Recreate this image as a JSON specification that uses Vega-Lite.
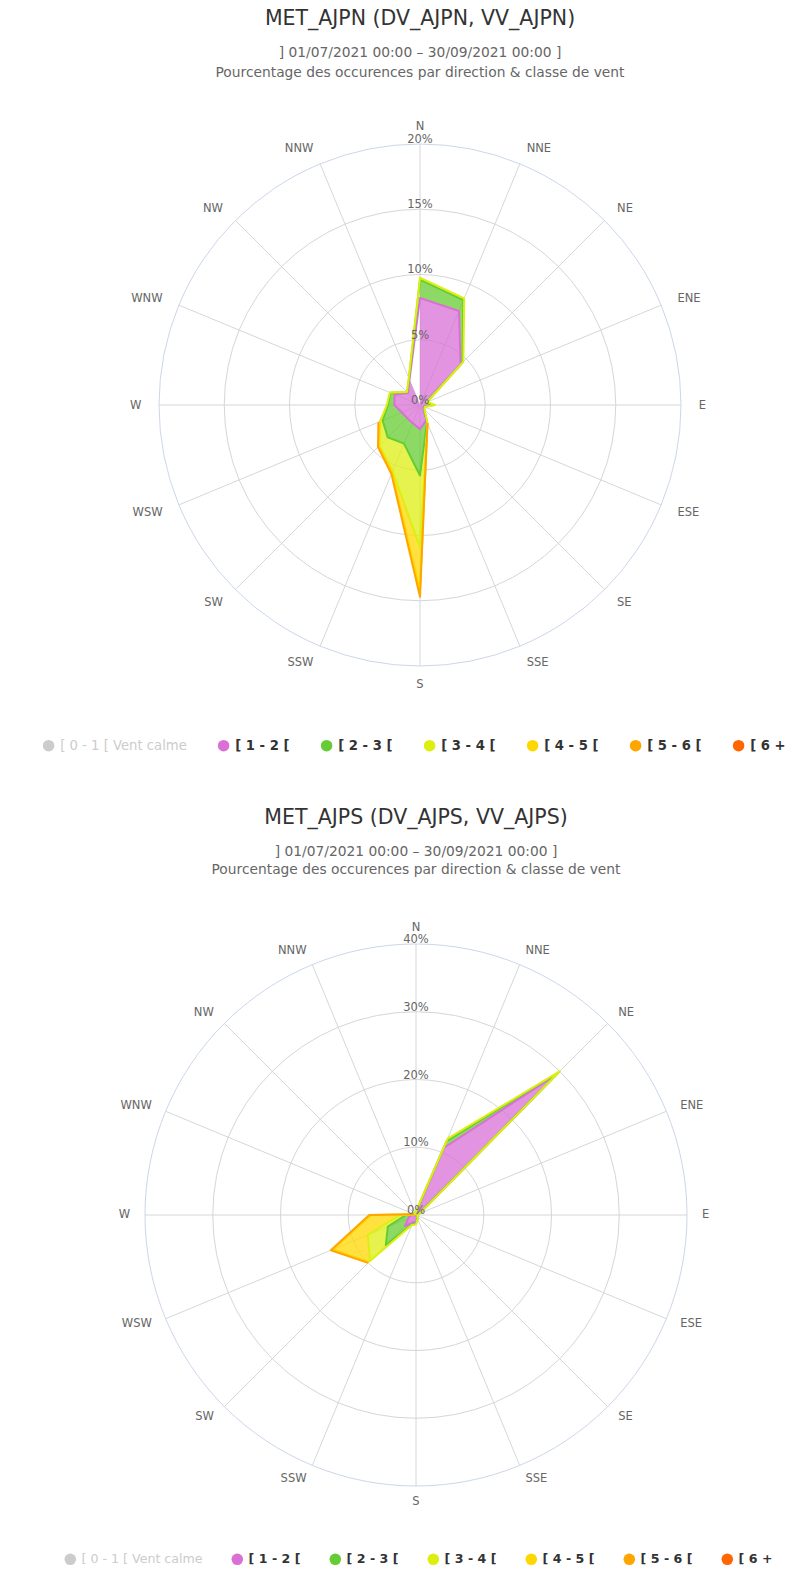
{
  "$schema": "https://vega.github.io/schema/vega-lite/v6.json",
  "padding": {"left": 42, "top": 9, "right": 0, "bottom": 0},
  "bounds": "flush",
  "spacing": 264,
  "config": {
    "view": {"stroke": null},
    "font": "DejaVu Sans",
    "title": {"anchor": "middle", "frame": "group", "fontSize": 20.5, "fontWeight": "normal", "color": "#333333", "subtitleFontSize": 13.8, "subtitleColor": "#666666", "subtitlePadding": 16, "subtitleLineHeight": 20}
  },
  "resolve": {"scale": {"fill": "independent", "stroke": "independent", "size": "independent"}, "legend": {"fill": "independent"}},
  "datasets": {
    "dirs": [
      {"dir": "N", "deg": 0}, {"dir": "NNE", "deg": 22.5}, {"dir": "NE", "deg": 45}, {"dir": "ENE", "deg": 67.5},
      {"dir": "E", "deg": 90}, {"dir": "ESE", "deg": 112.5}, {"dir": "SE", "deg": 135}, {"dir": "SSE", "deg": 157.5},
      {"dir": "S", "deg": 180}, {"dir": "SSW", "deg": 202.5}, {"dir": "SW", "deg": 225}, {"dir": "WSW", "deg": 247.5},
      {"dir": "W", "deg": 270}, {"dir": "WNW", "deg": 292.5}, {"dir": "NW", "deg": 315}, {"dir": "NNW", "deg": 337.5}
    ],
    "rings1": [{"v": 0, "t": "0%"}, {"v": 5, "t": "5%"}, {"v": 10, "t": "10%"}, {"v": 15, "t": "15%"}, {"v": 20, "t": "20%"}],
    "rings2": [{"v": 0, "t": "0%"}, {"v": 10, "t": "10%"}, {"v": 20, "t": "20%"}, {"v": 30, "t": "30%"}, {"v": 40, "t": "40%"}],
    "ajpn": [
      {"classe": "[ 1 - 2 [", "ord": 1, "deg": 0, "pct": 8.2}, {"classe": "[ 1 - 2 [", "ord": 1, "deg": 22.5, "pct": 7.8}, {"classe": "[ 1 - 2 [", "ord": 1, "deg": 45, "pct": 4.4}, {"classe": "[ 1 - 2 [", "ord": 1, "deg": 67.5, "pct": 0.5},
      {"classe": "[ 1 - 2 [", "ord": 1, "deg": 90, "pct": 0.95}, {"classe": "[ 1 - 2 [", "ord": 1, "deg": 112.5, "pct": 0.3}, {"classe": "[ 1 - 2 [", "ord": 1, "deg": 135, "pct": 0.4}, {"classe": "[ 1 - 2 [", "ord": 1, "deg": 157.5, "pct": 1.25},
      {"classe": "[ 1 - 2 [", "ord": 1, "deg": 180, "pct": 1.85}, {"classe": "[ 1 - 2 [", "ord": 1, "deg": 202.5, "pct": 1.5}, {"classe": "[ 1 - 2 [", "ord": 1, "deg": 225, "pct": 1.4}, {"classe": "[ 1 - 2 [", "ord": 1, "deg": 247.5, "pct": 1.5},
      {"classe": "[ 1 - 2 [", "ord": 1, "deg": 270, "pct": 1.96}, {"classe": "[ 1 - 2 [", "ord": 1, "deg": 292.5, "pct": 2.1}, {"classe": "[ 1 - 2 [", "ord": 1, "deg": 315, "pct": 1.3}, {"classe": "[ 1 - 2 [", "ord": 1, "deg": 337.5, "pct": 2.1},
      {"classe": "[ 2 - 3 [", "ord": 2, "deg": 0, "pct": 1.4}, {"classe": "[ 2 - 3 [", "ord": 2, "deg": 22.5, "pct": 0.9}, {"classe": "[ 2 - 3 [", "ord": 2, "deg": 45, "pct": 0.2}, {"classe": "[ 2 - 3 [", "ord": 2, "deg": 67.5, "pct": 0.05},
      {"classe": "[ 2 - 3 [", "ord": 2, "deg": 90, "pct": 0.1}, {"classe": "[ 2 - 3 [", "ord": 2, "deg": 112.5, "pct": 0.05}, {"classe": "[ 2 - 3 [", "ord": 2, "deg": 135, "pct": 0.05}, {"classe": "[ 2 - 3 [", "ord": 2, "deg": 157.5, "pct": 0.15},
      {"classe": "[ 2 - 3 [", "ord": 2, "deg": 180, "pct": 3.55}, {"classe": "[ 2 - 3 [", "ord": 2, "deg": 202.5, "pct": 1.7}, {"classe": "[ 2 - 3 [", "ord": 2, "deg": 225, "pct": 2.1}, {"classe": "[ 2 - 3 [", "ord": 2, "deg": 247.5, "pct": 1.6},
      {"classe": "[ 2 - 3 [", "ord": 2, "deg": 270, "pct": 0.5}, {"classe": "[ 2 - 3 [", "ord": 2, "deg": 292.5, "pct": 0.35}, {"classe": "[ 2 - 3 [", "ord": 2, "deg": 315, "pct": 0.08}, {"classe": "[ 2 - 3 [", "ord": 2, "deg": 337.5, "pct": 0.1},
      {"classe": "[ 3 - 4 [", "ord": 3, "deg": 0, "pct": 0.15}, {"classe": "[ 3 - 4 [", "ord": 3, "deg": 22.5, "pct": 0.15}, {"classe": "[ 3 - 4 [", "ord": 3, "deg": 45, "pct": 0.1}, {"classe": "[ 3 - 4 [", "ord": 3, "deg": 67.5, "pct": 0.05},
      {"classe": "[ 3 - 4 [", "ord": 3, "deg": 90, "pct": 0.1}, {"classe": "[ 3 - 4 [", "ord": 3, "deg": 112.5, "pct": 0.05}, {"classe": "[ 3 - 4 [", "ord": 3, "deg": 135, "pct": 0.05}, {"classe": "[ 3 - 4 [", "ord": 3, "deg": 157.5, "pct": 0.1},
      {"classe": "[ 3 - 4 [", "ord": 3, "deg": 180, "pct": 5.5}, {"classe": "[ 3 - 4 [", "ord": 3, "deg": 202.5, "pct": 2.3}, {"classe": "[ 3 - 4 [", "ord": 3, "deg": 225, "pct": 0.9}, {"classe": "[ 3 - 4 [", "ord": 3, "deg": 247.5, "pct": 0.2},
      {"classe": "[ 3 - 4 [", "ord": 3, "deg": 270, "pct": 0.08}, {"classe": "[ 3 - 4 [", "ord": 3, "deg": 292.5, "pct": 0.05}, {"classe": "[ 3 - 4 [", "ord": 3, "deg": 315, "pct": 0.04}, {"classe": "[ 3 - 4 [", "ord": 3, "deg": 337.5, "pct": 0.05},
      {"classe": "[ 4 - 5 [", "ord": 4, "deg": 0, "pct": null}, {"classe": "[ 4 - 5 [", "ord": 4, "deg": 22.5, "pct": null}, {"classe": "[ 4 - 5 [", "ord": 4, "deg": 45, "pct": null}, {"classe": "[ 4 - 5 [", "ord": 4, "deg": 67.5, "pct": null},
      {"classe": "[ 4 - 5 [", "ord": 4, "deg": 90, "pct": null}, {"classe": "[ 4 - 5 [", "ord": 4, "deg": 112.5, "pct": null}, {"classe": "[ 4 - 5 [", "ord": 4, "deg": 135, "pct": null}, {"classe": "[ 4 - 5 [", "ord": 4, "deg": 157.5, "pct": 0},
      {"classe": "[ 4 - 5 [", "ord": 4, "deg": 180, "pct": 3.3}, {"classe": "[ 4 - 5 [", "ord": 4, "deg": 202.5, "pct": 0.1}, {"classe": "[ 4 - 5 [", "ord": 4, "deg": 225, "pct": 0.05}, {"classe": "[ 4 - 5 [", "ord": 4, "deg": 247.5, "pct": 0.05},
      {"classe": "[ 4 - 5 [", "ord": 4, "deg": 270, "pct": null}, {"classe": "[ 4 - 5 [", "ord": 4, "deg": 292.5, "pct": null}, {"classe": "[ 4 - 5 [", "ord": 4, "deg": 315, "pct": null}, {"classe": "[ 4 - 5 [", "ord": 4, "deg": 337.5, "pct": null},
      {"classe": "[ 5 - 6 [", "ord": 5, "deg": 0, "pct": null}, {"classe": "[ 5 - 6 [", "ord": 5, "deg": 22.5, "pct": null}, {"classe": "[ 5 - 6 [", "ord": 5, "deg": 45, "pct": null}, {"classe": "[ 5 - 6 [", "ord": 5, "deg": 67.5, "pct": null},
      {"classe": "[ 5 - 6 [", "ord": 5, "deg": 90, "pct": null}, {"classe": "[ 5 - 6 [", "ord": 5, "deg": 112.5, "pct": null}, {"classe": "[ 5 - 6 [", "ord": 5, "deg": 135, "pct": null}, {"classe": "[ 5 - 6 [", "ord": 5, "deg": 157.5, "pct": 0},
      {"classe": "[ 5 - 6 [", "ord": 5, "deg": 180, "pct": 0.5}, {"classe": "[ 5 - 6 [", "ord": 5, "deg": 202.5, "pct": 0.12}, {"classe": "[ 5 - 6 [", "ord": 5, "deg": 225, "pct": 0.1}, {"classe": "[ 5 - 6 [", "ord": 5, "deg": 247.5, "pct": 0.1},
      {"classe": "[ 5 - 6 [", "ord": 5, "deg": 270, "pct": null}, {"classe": "[ 5 - 6 [", "ord": 5, "deg": 292.5, "pct": null}, {"classe": "[ 5 - 6 [", "ord": 5, "deg": 315, "pct": null}, {"classe": "[ 5 - 6 [", "ord": 5, "deg": 337.5, "pct": null}
    ],
    "ajps": [
      {"classe": "[ 1 - 2 [", "ord": 1, "deg": 0, "pct": 0.4}, {"classe": "[ 1 - 2 [", "ord": 1, "deg": 22.5, "pct": 10.7}, {"classe": "[ 1 - 2 [", "ord": 1, "deg": 45, "pct": 29.4}, {"classe": "[ 1 - 2 [", "ord": 1, "deg": 67.5, "pct": 0.5},
      {"classe": "[ 1 - 2 [", "ord": 1, "deg": 90, "pct": 0.25}, {"classe": "[ 1 - 2 [", "ord": 1, "deg": 112.5, "pct": 0.15}, {"classe": "[ 1 - 2 [", "ord": 1, "deg": 135, "pct": 0.2}, {"classe": "[ 1 - 2 [", "ord": 1, "deg": 157.5, "pct": 0.5},
      {"classe": "[ 1 - 2 [", "ord": 1, "deg": 180, "pct": 1.0}, {"classe": "[ 1 - 2 [", "ord": 1, "deg": 202.5, "pct": 1.2}, {"classe": "[ 1 - 2 [", "ord": 1, "deg": 225, "pct": 2.3}, {"classe": "[ 1 - 2 [", "ord": 1, "deg": 247.5, "pct": 1.2},
      {"classe": "[ 1 - 2 [", "ord": 1, "deg": 270, "pct": 0.8}, {"classe": "[ 1 - 2 [", "ord": 1, "deg": 292.5, "pct": 0.1}, {"classe": "[ 1 - 2 [", "ord": 1, "deg": 315, "pct": 0.1}, {"classe": "[ 1 - 2 [", "ord": 1, "deg": 337.5, "pct": 0.2},
      {"classe": "[ 2 - 3 [", "ord": 2, "deg": 0, "pct": 0.1}, {"classe": "[ 2 - 3 [", "ord": 2, "deg": 22.5, "pct": 1.1}, {"classe": "[ 2 - 3 [", "ord": 2, "deg": 45, "pct": 0.4}, {"classe": "[ 2 - 3 [", "ord": 2, "deg": 67.5, "pct": 0.05},
      {"classe": "[ 2 - 3 [", "ord": 2, "deg": 90, "pct": 0.05}, {"classe": "[ 2 - 3 [", "ord": 2, "deg": 112.5, "pct": 0.05}, {"classe": "[ 2 - 3 [", "ord": 2, "deg": 135, "pct": 0.05}, {"classe": "[ 2 - 3 [", "ord": 2, "deg": 157.5, "pct": 0.1},
      {"classe": "[ 2 - 3 [", "ord": 2, "deg": 180, "pct": 0.3}, {"classe": "[ 2 - 3 [", "ord": 2, "deg": 202.5, "pct": 0.3}, {"classe": "[ 2 - 3 [", "ord": 2, "deg": 225, "pct": 4.0}, {"classe": "[ 2 - 3 [", "ord": 2, "deg": 247.5, "pct": 3.3},
      {"classe": "[ 2 - 3 [", "ord": 2, "deg": 270, "pct": 0.7}, {"classe": "[ 2 - 3 [", "ord": 2, "deg": 292.5, "pct": 0.05}, {"classe": "[ 2 - 3 [", "ord": 2, "deg": 315, "pct": 0.05}, {"classe": "[ 2 - 3 [", "ord": 2, "deg": 337.5, "pct": 0.05},
      {"classe": "[ 3 - 4 [", "ord": 3, "deg": 0, "pct": 0.05}, {"classe": "[ 3 - 4 [", "ord": 3, "deg": 22.5, "pct": 0.4}, {"classe": "[ 3 - 4 [", "ord": 3, "deg": 45, "pct": 0.2}, {"classe": "[ 3 - 4 [", "ord": 3, "deg": 67.5, "pct": 0.05},
      {"classe": "[ 3 - 4 [", "ord": 3, "deg": 90, "pct": 0.05}, {"classe": "[ 3 - 4 [", "ord": 3, "deg": 112.5, "pct": 0}, {"classe": "[ 3 - 4 [", "ord": 3, "deg": 135, "pct": 0.05}, {"classe": "[ 3 - 4 [", "ord": 3, "deg": 157.5, "pct": 0.05},
      {"classe": "[ 3 - 4 [", "ord": 3, "deg": 180, "pct": 0.1}, {"classe": "[ 3 - 4 [", "ord": 3, "deg": 202.5, "pct": 0.1}, {"classe": "[ 3 - 4 [", "ord": 3, "deg": 225, "pct": 3.3}, {"classe": "[ 3 - 4 [", "ord": 3, "deg": 247.5, "pct": 3.2},
      {"classe": "[ 3 - 4 [", "ord": 3, "deg": 270, "pct": 0.9}, {"classe": "[ 3 - 4 [", "ord": 3, "deg": 292.5, "pct": 0.05}, {"classe": "[ 3 - 4 [", "ord": 3, "deg": 315, "pct": 0}, {"classe": "[ 3 - 4 [", "ord": 3, "deg": 337.5, "pct": 0.05},
      {"classe": "[ 4 - 5 [", "ord": 4, "deg": 0, "pct": null}, {"classe": "[ 4 - 5 [", "ord": 4, "deg": 22.5, "pct": null}, {"classe": "[ 4 - 5 [", "ord": 4, "deg": 45, "pct": null}, {"classe": "[ 4 - 5 [", "ord": 4, "deg": 67.5, "pct": null},
      {"classe": "[ 4 - 5 [", "ord": 4, "deg": 90, "pct": null}, {"classe": "[ 4 - 5 [", "ord": 4, "deg": 112.5, "pct": null}, {"classe": "[ 4 - 5 [", "ord": 4, "deg": 135, "pct": null}, {"classe": "[ 4 - 5 [", "ord": 4, "deg": 157.5, "pct": null},
      {"classe": "[ 4 - 5 [", "ord": 4, "deg": 180, "pct": null}, {"classe": "[ 4 - 5 [", "ord": 4, "deg": 202.5, "pct": null}, {"classe": "[ 4 - 5 [", "ord": 4, "deg": 225, "pct": 0.2}, {"classe": "[ 4 - 5 [", "ord": 4, "deg": 247.5, "pct": 5.6},
      {"classe": "[ 4 - 5 [", "ord": 4, "deg": 270, "pct": 4.2}, {"classe": "[ 4 - 5 [", "ord": 4, "deg": 292.5, "pct": 0.1}, {"classe": "[ 4 - 5 [", "ord": 4, "deg": 315, "pct": null}, {"classe": "[ 4 - 5 [", "ord": 4, "deg": 337.5, "pct": null},
      {"classe": "[ 5 - 6 [", "ord": 5, "deg": 0, "pct": null}, {"classe": "[ 5 - 6 [", "ord": 5, "deg": 22.5, "pct": null}, {"classe": "[ 5 - 6 [", "ord": 5, "deg": 45, "pct": null}, {"classe": "[ 5 - 6 [", "ord": 5, "deg": 67.5, "pct": null},
      {"classe": "[ 5 - 6 [", "ord": 5, "deg": 90, "pct": null}, {"classe": "[ 5 - 6 [", "ord": 5, "deg": 112.5, "pct": null}, {"classe": "[ 5 - 6 [", "ord": 5, "deg": 135, "pct": null}, {"classe": "[ 5 - 6 [", "ord": 5, "deg": 157.5, "pct": null},
      {"classe": "[ 5 - 6 [", "ord": 5, "deg": 180, "pct": null}, {"classe": "[ 5 - 6 [", "ord": 5, "deg": 202.5, "pct": null}, {"classe": "[ 5 - 6 [", "ord": 5, "deg": 225, "pct": 0.2}, {"classe": "[ 5 - 6 [", "ord": 5, "deg": 247.5, "pct": 0.3},
      {"classe": "[ 5 - 6 [", "ord": 5, "deg": 270, "pct": 0.3}, {"classe": "[ 5 - 6 [", "ord": 5, "deg": 292.5, "pct": 0}, {"classe": "[ 5 - 6 [", "ord": 5, "deg": 315, "pct": null}, {"classe": "[ 5 - 6 [", "ord": 5, "deg": 337.5, "pct": null}
    ]
  },
  "vconcat": [
    {
      "width": 550, "height": 550,
      "title": {"text": "MET_AJPN (DV_AJPN, VV_AJPN)", "subtitle": ["] 01/07/2021 00:00 – 30/09/2021 00:00 ]", "Pourcentage des occurences par direction & classe de vent"], "offset": 41},
      "layer": [
        {
          "data": {"name": "rings1"},
          "transform": [{"filter": "datum.v > 0"}, {"calculate": "0", "as": "c"}],
          "mark": {"type": "point", "shape": "circle", "filled": false, "strokeWidth": 1, "opacity": 1},
          "encoding": {
            "x": {"field": "c", "type": "quantitative", "scale": {"domain": [-21.07, 21.07], "nice": false, "zero": false}, "axis": null},
            "y": {"field": "c", "type": "quantitative", "scale": {"domain": [-21.07, 21.07], "nice": false, "zero": false}, "axis": null},
            "size": {"field": "v", "type": "quantitative", "scale": {"type": "pow", "exponent": 2, "domain": [0, 20], "range": [0, 272484], "zero": true, "nice": false}, "legend": null},
            "stroke": {"condition": {"test": "datum.v == 20", "value": "#ccd6eb"}, "value": "#d6d6d6"}
          }
        },
        {
          "data": {"name": "dirs"},
          "transform": [{"calculate": "0", "as": "c"}, {"calculate": "20 * sin(datum.deg * PI / 180)", "as": "sx"}, {"calculate": "20 * cos(datum.deg * PI / 180)", "as": "sy"}],
          "mark": {"type": "rule", "color": "#d6d6d6", "strokeWidth": 1},
          "encoding": {
            "x": {"field": "c", "type": "quantitative", "scale": {"domain": [-21.07, 21.07], "nice": false, "zero": false}, "axis": null},
            "y": {"field": "c", "type": "quantitative", "scale": {"domain": [-21.07, 21.07], "nice": false, "zero": false}, "axis": null},
            "x2": {"field": "sx"},
            "y2": {"field": "sy"}
          }
        },
        {
          "data": {"name": "ajpn"},
          "transform": [
            {"stack": "pct", "groupby": ["deg"], "sort": [{"field": "ord", "order": "ascending"}], "as": ["c0", "c1"]},
            {"fold": ["c0", "c1"], "as": ["edge", "r"]},
            {"calculate": "datum.edge == 'c1' ? datum.deg : 720 - datum.deg", "as": "seq"},
            {"calculate": "datum.r * sin(datum.deg * PI / 180)", "as": "px"},
            {"calculate": "datum.r * cos(datum.deg * PI / 180)", "as": "py"}
          ],
          "mark": {"type": "line", "interpolate": "linear-closed", "strokeWidth": 0, "fillOpacity": 0.75},
          "encoding": {
            "x": {"field": "px", "type": "quantitative", "scale": {"domain": [-21.07, 21.07], "nice": false, "zero": false}, "axis": null},
            "y": {"field": "py", "type": "quantitative", "scale": {"domain": [-21.07, 21.07], "nice": false, "zero": false}, "axis": null},
            "order": {"field": "seq", "type": "quantitative"},
            "fill": {"field": "classe", "type": "nominal",
              "scale": {"domain": ["[ 0 - 1 [ Vent calme", "[ 1 - 2 [", "[ 2 - 3 [", "[ 3 - 4 [", "[ 4 - 5 [", "[ 5 - 6 [", "[ 6 +"], "range": ["#cccccc", "#da70d6", "#66cc33", "#ddee11", "#ffd700", "#ffa500", "#ff6600"]},
              "legend": {"title": null, "orient": "none", "legendX": -103, "legendY": 609, "direction": "horizontal", "symbolType": "circle", "symbolSize": 133, "symbolStrokeWidth": 0, "symbolOpacity": 1, "labelFontSize": 13.2, "labelFontWeight": {"expr": "datum.label == '[ 0 - 1 [ Vent calme' ? 'normal' : 'bold'"}, "labelColor": {"expr": "datum.label == '[ 0 - 1 [ Vent calme' ? '#cccccc' : '#333333'"}, "columnPadding": 30, "labelOffset": 5, "padding": 0, "labelLimit": 300}
            }
          }
        },
        {
          "data": {"name": "ajpn"},
          "transform": [
            {"filter": "datum.ord <= 3"},
            {"stack": "pct", "groupby": ["deg"], "sort": [{"field": "ord", "order": "ascending"}], "as": ["c0", "c1"]},
            {"calculate": "datum.c1 * sin(datum.deg * PI / 180)", "as": "px"},
            {"calculate": "datum.c1 * cos(datum.deg * PI / 180)", "as": "py"}
          ],
          "mark": {"type": "line", "interpolate": "linear-closed", "strokeWidth": 2, "strokeJoin": "round"},
          "encoding": {
            "x": {"field": "px", "type": "quantitative", "scale": {"domain": [-21.07, 21.07], "nice": false, "zero": false}, "axis": null},
            "y": {"field": "py", "type": "quantitative", "scale": {"domain": [-21.07, 21.07], "nice": false, "zero": false}, "axis": null},
            "order": {"field": "deg", "type": "quantitative"},
            "stroke": {"field": "classe", "type": "nominal",
              "scale": {"domain": ["[ 0 - 1 [ Vent calme", "[ 1 - 2 [", "[ 2 - 3 [", "[ 3 - 4 [", "[ 4 - 5 [", "[ 5 - 6 [", "[ 6 +"], "range": ["#cccccc", "#da70d6", "#66cc33", "#ddee11", "#ffd700", "#ffa500", "#ff6600"]},
              "legend": null}
          }
        },
        {
          "data": {"name": "ajpn"},
          "transform": [
            {"stack": "pct", "groupby": ["deg"], "sort": [{"field": "ord", "order": "ascending"}], "as": ["c0", "c1"]},
            {"filter": "datum.ord >= 4 && datum.pct != null"},
            {"calculate": "datum.c1 * sin(datum.deg * PI / 180)", "as": "px"},
            {"calculate": "datum.c1 * cos(datum.deg * PI / 180)", "as": "py"}
          ],
          "mark": {"type": "line", "interpolate": "linear", "strokeWidth": 2, "strokeJoin": "round"},
          "encoding": {
            "x": {"field": "px", "type": "quantitative", "scale": {"domain": [-21.07, 21.07], "nice": false, "zero": false}, "axis": null},
            "y": {"field": "py", "type": "quantitative", "scale": {"domain": [-21.07, 21.07], "nice": false, "zero": false}, "axis": null},
            "order": {"field": "deg", "type": "quantitative"},
            "stroke": {"field": "classe", "type": "nominal",
              "scale": {"domain": ["[ 0 - 1 [ Vent calme", "[ 1 - 2 [", "[ 2 - 3 [", "[ 3 - 4 [", "[ 4 - 5 [", "[ 5 - 6 [", "[ 6 +"], "range": ["#cccccc", "#da70d6", "#66cc33", "#ddee11", "#ffd700", "#ffa500", "#ff6600"]},
              "legend": null}
          }
        },
        {
          "data": {"name": "rings1"},
          "transform": [{"calculate": "0", "as": "c"}],
          "mark": {"type": "text", "fontSize": 11.5, "color": "#666666", "baseline": "bottom", "align": "center", "dy": 1},
          "encoding": {
            "x": {"field": "c", "type": "quantitative", "scale": {"domain": [-21.07, 21.07], "nice": false, "zero": false}, "axis": null},
            "y": {"field": "v", "type": "quantitative", "scale": {"domain": [-21.07, 21.07], "nice": false, "zero": false}, "axis": null},
            "text": {"field": "t", "type": "nominal"}
          }
        },
        {
          "data": {"name": "dirs"},
          "transform": [{"filter": "datum.deg == 0 || datum.deg == 180"}, {"calculate": "21.4 * sin(datum.deg * PI / 180)", "as": "lx"}, {"calculate": "21.4 * cos(datum.deg * PI / 180)", "as": "ly"}],
          "mark": {"type": "text", "fontSize": 11.5, "color": "#666666", "baseline": "middle", "align": "center", "dy": 1},
          "encoding": {
            "x": {"field": "lx", "type": "quantitative", "scale": {"domain": [-21.07, 21.07], "nice": false, "zero": false}, "axis": null},
            "y": {"field": "ly", "type": "quantitative", "scale": {"domain": [-21.07, 21.07], "nice": false, "zero": false}, "axis": null},
            "text": {"field": "dir", "type": "nominal"}
          }
        },
        {
          "data": {"name": "dirs"},
          "transform": [{"filter": "datum.deg > 0 && datum.deg < 180"}, {"calculate": "21.35 * sin(datum.deg * PI / 180)", "as": "lx"}, {"calculate": "21.35 * cos(datum.deg * PI / 180)", "as": "ly"}],
          "mark": {"type": "text", "fontSize": 11.5, "color": "#666666", "baseline": "middle", "align": "left", "dy": 1},
          "encoding": {
            "x": {"field": "lx", "type": "quantitative", "scale": {"domain": [-21.07, 21.07], "nice": false, "zero": false}, "axis": null},
            "y": {"field": "ly", "type": "quantitative", "scale": {"domain": [-21.07, 21.07], "nice": false, "zero": false}, "axis": null},
            "text": {"field": "dir", "type": "nominal"}
          }
        },
        {
          "data": {"name": "dirs"},
          "transform": [{"filter": "datum.deg > 180"}, {"calculate": "21.35 * sin(datum.deg * PI / 180)", "as": "lx"}, {"calculate": "21.35 * cos(datum.deg * PI / 180)", "as": "ly"}],
          "mark": {"type": "text", "fontSize": 11.5, "color": "#666666", "baseline": "middle", "align": "right", "dy": 1},
          "encoding": {
            "x": {"field": "lx", "type": "quantitative", "scale": {"domain": [-21.07, 21.07], "nice": false, "zero": false}, "axis": null},
            "y": {"field": "ly", "type": "quantitative", "scale": {"domain": [-21.07, 21.07], "nice": false, "zero": false}, "axis": null},
            "text": {"field": "dir", "type": "nominal"}
          }
        }
      ]
    },
    {
      "width": 542, "height": 542,
      "title": {"text": "MET_AJPS (DV_AJPS, VV_AJPS)", "subtitle": ["] 01/07/2021 00:00 – 30/09/2021 00:00 ]", "Pourcentage des occurences par direction & classe de vent"], "offset": 45, "subtitleLineHeight": 18, "subtitlePadding": 16},
      "layer": [
        {
          "data": {"name": "rings2"},
          "transform": [{"filter": "datum.v > 0"}, {"calculate": "0", "as": "c"}],
          "mark": {"type": "point", "shape": "circle", "filled": false, "strokeWidth": 1, "opacity": 1},
          "encoding": {
            "x": {"field": "c", "type": "quantitative", "scale": {"domain": [-40, 40], "nice": false, "zero": false}, "axis": null},
            "y": {"field": "c", "type": "quantitative", "scale": {"domain": [-40, 40], "nice": false, "zero": false}, "axis": null},
            "size": {"field": "v", "type": "quantitative", "scale": {"type": "pow", "exponent": 2, "domain": [0, 40], "range": [0, 293764], "zero": true, "nice": false}, "legend": null},
            "stroke": {"condition": {"test": "datum.v == 40", "value": "#ccd6eb"}, "value": "#d6d6d6"}
          }
        },
        {
          "data": {"name": "dirs"},
          "transform": [{"calculate": "0", "as": "c"}, {"calculate": "40 * sin(datum.deg * PI / 180)", "as": "sx"}, {"calculate": "40 * cos(datum.deg * PI / 180)", "as": "sy"}],
          "mark": {"type": "rule", "color": "#d6d6d6", "strokeWidth": 1},
          "encoding": {
            "x": {"field": "c", "type": "quantitative", "scale": {"domain": [-40, 40], "nice": false, "zero": false}, "axis": null},
            "y": {"field": "c", "type": "quantitative", "scale": {"domain": [-40, 40], "nice": false, "zero": false}, "axis": null},
            "x2": {"field": "sx"},
            "y2": {"field": "sy"}
          }
        },
        {
          "data": {"name": "ajps"},
          "transform": [
            {"stack": "pct", "groupby": ["deg"], "sort": [{"field": "ord", "order": "ascending"}], "as": ["c0", "c1"]},
            {"fold": ["c0", "c1"], "as": ["edge", "r"]},
            {"calculate": "datum.edge == 'c1' ? datum.deg : 720 - datum.deg", "as": "seq"},
            {"calculate": "datum.r * sin(datum.deg * PI / 180)", "as": "px"},
            {"calculate": "datum.r * cos(datum.deg * PI / 180)", "as": "py"}
          ],
          "mark": {"type": "line", "interpolate": "linear-closed", "strokeWidth": 0, "fillOpacity": 0.75},
          "encoding": {
            "x": {"field": "px", "type": "quantitative", "scale": {"domain": [-40, 40], "nice": false, "zero": false}, "axis": null},
            "y": {"field": "py", "type": "quantitative", "scale": {"domain": [-40, 40], "nice": false, "zero": false}, "axis": null},
            "order": {"field": "seq", "type": "quantitative"},
            "fill": {"field": "classe", "type": "nominal",
              "scale": {"domain": ["[ 0 - 1 [ Vent calme", "[ 1 - 2 [", "[ 2 - 3 [", "[ 3 - 4 [", "[ 4 - 5 [", "[ 5 - 6 [", "[ 6 +"], "range": ["#cccccc", "#da70d6", "#66cc33", "#ddee11", "#ffd700", "#ffa500", "#ff6600"]},
              "legend": {"title": null, "orient": "none", "legendX": -81, "legendY": 609, "direction": "horizontal", "symbolType": "circle", "symbolSize": 133, "symbolStrokeWidth": 0, "symbolOpacity": 1, "labelFontSize": 12.6, "labelFontWeight": {"expr": "datum.label == '[ 0 - 1 [ Vent calme' ? 'normal' : 'bold'"}, "labelColor": {"expr": "datum.label == '[ 0 - 1 [ Vent calme' ? '#cccccc' : '#333333'"}, "columnPadding": 28, "labelOffset": 5, "padding": 0, "labelLimit": 300}
            }
          }
        },
        {
          "data": {"name": "ajps"},
          "transform": [
            {"filter": "datum.ord <= 3"},
            {"stack": "pct", "groupby": ["deg"], "sort": [{"field": "ord", "order": "ascending"}], "as": ["c0", "c1"]},
            {"calculate": "datum.c1 * sin(datum.deg * PI / 180)", "as": "px"},
            {"calculate": "datum.c1 * cos(datum.deg * PI / 180)", "as": "py"}
          ],
          "mark": {"type": "line", "interpolate": "linear-closed", "strokeWidth": 2, "strokeJoin": "round"},
          "encoding": {
            "x": {"field": "px", "type": "quantitative", "scale": {"domain": [-40, 40], "nice": false, "zero": false}, "axis": null},
            "y": {"field": "py", "type": "quantitative", "scale": {"domain": [-40, 40], "nice": false, "zero": false}, "axis": null},
            "order": {"field": "deg", "type": "quantitative"},
            "stroke": {"field": "classe", "type": "nominal",
              "scale": {"domain": ["[ 0 - 1 [ Vent calme", "[ 1 - 2 [", "[ 2 - 3 [", "[ 3 - 4 [", "[ 4 - 5 [", "[ 5 - 6 [", "[ 6 +"], "range": ["#cccccc", "#da70d6", "#66cc33", "#ddee11", "#ffd700", "#ffa500", "#ff6600"]},
              "legend": null}
          }
        },
        {
          "data": {"name": "ajps"},
          "transform": [
            {"stack": "pct", "groupby": ["deg"], "sort": [{"field": "ord", "order": "ascending"}], "as": ["c0", "c1"]},
            {"filter": "datum.ord >= 4 && datum.pct != null"},
            {"calculate": "datum.c1 * sin(datum.deg * PI / 180)", "as": "px"},
            {"calculate": "datum.c1 * cos(datum.deg * PI / 180)", "as": "py"}
          ],
          "mark": {"type": "line", "interpolate": "linear", "strokeWidth": 2, "strokeJoin": "round"},
          "encoding": {
            "x": {"field": "px", "type": "quantitative", "scale": {"domain": [-40, 40], "nice": false, "zero": false}, "axis": null},
            "y": {"field": "py", "type": "quantitative", "scale": {"domain": [-40, 40], "nice": false, "zero": false}, "axis": null},
            "order": {"field": "deg", "type": "quantitative"},
            "stroke": {"field": "classe", "type": "nominal",
              "scale": {"domain": ["[ 0 - 1 [ Vent calme", "[ 1 - 2 [", "[ 2 - 3 [", "[ 3 - 4 [", "[ 4 - 5 [", "[ 5 - 6 [", "[ 6 +"], "range": ["#cccccc", "#da70d6", "#66cc33", "#ddee11", "#ffd700", "#ffa500", "#ff6600"]},
              "legend": null}
          }
        },
        {
          "data": {"name": "rings2"},
          "transform": [{"calculate": "0", "as": "c"}],
          "mark": {"type": "text", "fontSize": 11.5, "color": "#666666", "baseline": "bottom", "align": "center", "dy": 1},
          "encoding": {
            "x": {"field": "c", "type": "quantitative", "scale": {"domain": [-40, 40], "nice": false, "zero": false}, "axis": null},
            "y": {"field": "v", "type": "quantitative", "scale": {"domain": [-40, 40], "nice": false, "zero": false}, "axis": null},
            "text": {"field": "t", "type": "nominal"}
          }
        },
        {
          "data": {"name": "dirs"},
          "transform": [{"filter": "datum.deg == 0 || datum.deg == 180"}, {"calculate": "42.4 * sin(datum.deg * PI / 180)", "as": "lx"}, {"calculate": "42.4 * cos(datum.deg * PI / 180)", "as": "ly"}],
          "mark": {"type": "text", "fontSize": 11.5, "color": "#666666", "baseline": "middle", "align": "center", "dy": 0},
          "encoding": {
            "x": {"field": "lx", "type": "quantitative", "scale": {"domain": [-40, 40], "nice": false, "zero": false}, "axis": null},
            "y": {"field": "ly", "type": "quantitative", "scale": {"domain": [-40, 40], "nice": false, "zero": false}, "axis": null},
            "text": {"field": "dir", "type": "nominal"}
          }
        },
        {
          "data": {"name": "dirs"},
          "transform": [{"filter": "datum.deg > 0 && datum.deg < 180"}, {"calculate": "42.2 * sin(datum.deg * PI / 180)", "as": "lx"}, {"calculate": "42.2 * cos(datum.deg * PI / 180)", "as": "ly"}],
          "mark": {"type": "text", "fontSize": 11.5, "color": "#666666", "baseline": "middle", "align": "left", "dy": 0},
          "encoding": {
            "x": {"field": "lx", "type": "quantitative", "scale": {"domain": [-40, 40], "nice": false, "zero": false}, "axis": null},
            "y": {"field": "ly", "type": "quantitative", "scale": {"domain": [-40, 40], "nice": false, "zero": false}, "axis": null},
            "text": {"field": "dir", "type": "nominal"}
          }
        },
        {
          "data": {"name": "dirs"},
          "transform": [{"filter": "datum.deg > 180"}, {"calculate": "42.2 * sin(datum.deg * PI / 180)", "as": "lx"}, {"calculate": "42.2 * cos(datum.deg * PI / 180)", "as": "ly"}],
          "mark": {"type": "text", "fontSize": 11.5, "color": "#666666", "baseline": "middle", "align": "right", "dy": 0},
          "encoding": {
            "x": {"field": "lx", "type": "quantitative", "scale": {"domain": [-40, 40], "nice": false, "zero": false}, "axis": null},
            "y": {"field": "ly", "type": "quantitative", "scale": {"domain": [-40, 40], "nice": false, "zero": false}, "axis": null},
            "text": {"field": "dir", "type": "nominal"}
          }
        }
      ]
    }
  ]
}
